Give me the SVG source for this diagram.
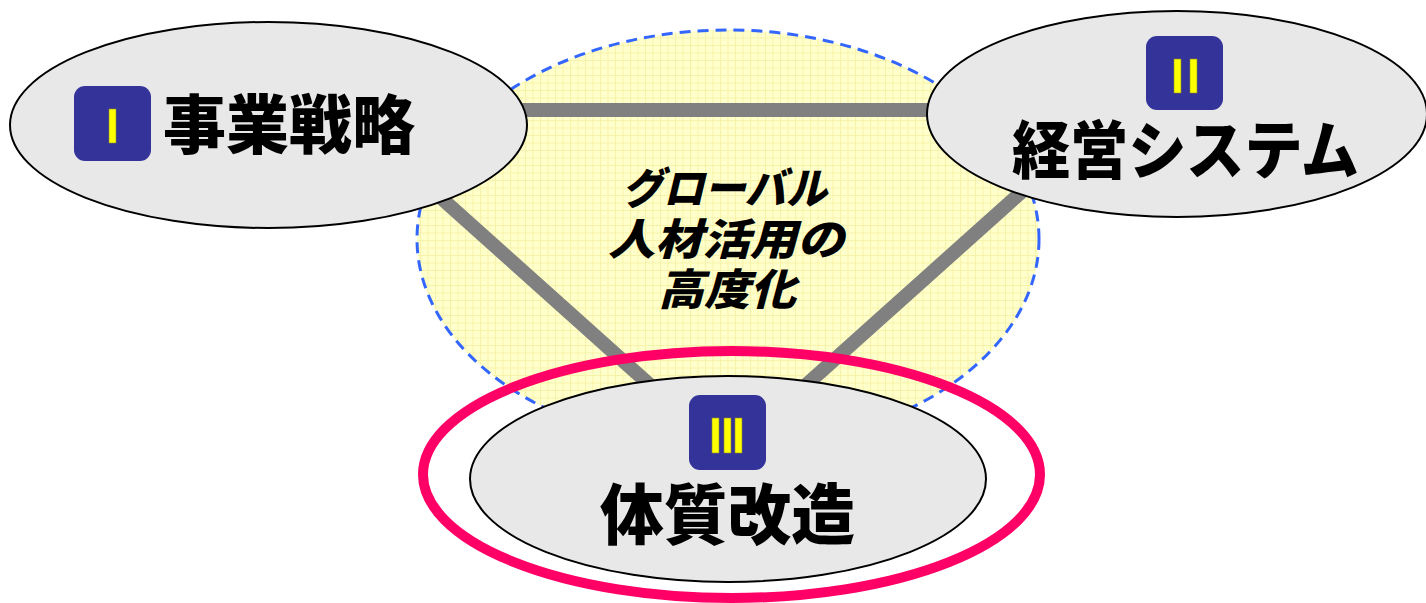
<svg xmlns="http://www.w3.org/2000/svg" width="1426" height="603" viewBox="0 0 1426 603">
  <defs>
    <pattern id="grid" x="0" y="0" width="7.5" height="7.5" patternUnits="userSpaceOnUse">
      <rect width="7.5" height="7.5" fill="#ffffcc"/>
      <path d="M0 0.5H7.5M0.5 0V7.5" stroke="#f6f2a8" stroke-width="1" fill="none"/>
    </pattern>
    <style>
      .node { fill: #e8e8e8; stroke: #000; stroke-width: 2; }
      .badge { fill: #333399; }
      .bar { fill: #ffff00; stroke: #8a8a30; stroke-width: 0.6; }
      .big { font-family: "Noto Sans CJK JP", "Noto Sans CJK SC", sans-serif; font-weight: 900; fill: #000; }
      .mid { font-family: "Noto Sans CJK JP", "Noto Sans CJK SC", sans-serif; font-weight: 900; font-style: italic; font-size: 43px; fill: #000; }
      .conn { stroke: #808080; stroke-width: 14; fill: none; }
    </style>
  </defs>

  <g id="theme">
    <ellipse cx="728" cy="239" rx="311" ry="209" fill="url(#grid)" stroke="#3366ff" stroke-width="3" stroke-dasharray="11 7"/>
    <text class="mid" x="622" y="204" textLength="205" lengthAdjust="spacingAndGlyphs">グローバル</text>
    <text class="mid" x="608" y="255" textLength="236" lengthAdjust="spacingAndGlyphs">人材活用の</text>
    <text class="mid" x="658" y="305" textLength="138" lengthAdjust="spacingAndGlyphs">高度化</text>
  </g>

  <g id="connectors">
    <line class="conn" x1="500" y1="110" x2="960" y2="110"/>
    <line class="conn" x1="420" y1="179" x2="660" y2="394"/>
    <line class="conn" x1="1036" y1="179" x2="796" y2="394"/>
  </g>

  <g id="focus-ring">
    <ellipse cx="731.5" cy="474.5" rx="308.5" ry="123.5" fill="none" stroke="#ff0066" stroke-width="10"/>
  </g>

  <g id="node-1">
    <ellipse class="node" cx="268.5" cy="125" rx="258.5" ry="103"/>
    <rect class="badge" x="74" y="86" width="77" height="75" rx="11"/>
    <rect class="bar" x="109" y="109" width="7" height="34"/>
    <text class="big" x="163" y="148" font-size="64" textLength="252" lengthAdjust="spacingAndGlyphs">事業戦略</text>
  </g>

  <g id="node-2">
    <ellipse class="node" cx="1177" cy="114" rx="250" ry="103"/>
    <rect class="badge" x="1146" y="36" width="77" height="74" rx="11"/>
    <rect class="bar" x="1174" y="59" width="7" height="34"/>
    <rect class="bar" x="1190" y="59" width="7" height="34"/>
    <text class="big" x="1012" y="173" font-size="63" textLength="347" lengthAdjust="spacingAndGlyphs">経営システム</text>
  </g>

  <g id="node-3">
    <ellipse class="node" cx="728" cy="479" rx="258" ry="103"/>
    <rect class="badge" x="689" y="395" width="77" height="75" rx="11"/>
    <rect class="bar" x="712" y="418" width="7" height="35"/>
    <rect class="bar" x="724" y="418" width="7" height="35"/>
    <rect class="bar" x="735" y="418" width="7" height="35"/>
    <text class="big" x="600" y="539" font-size="66" textLength="255" lengthAdjust="spacingAndGlyphs">体質改造</text>
  </g>
</svg>
